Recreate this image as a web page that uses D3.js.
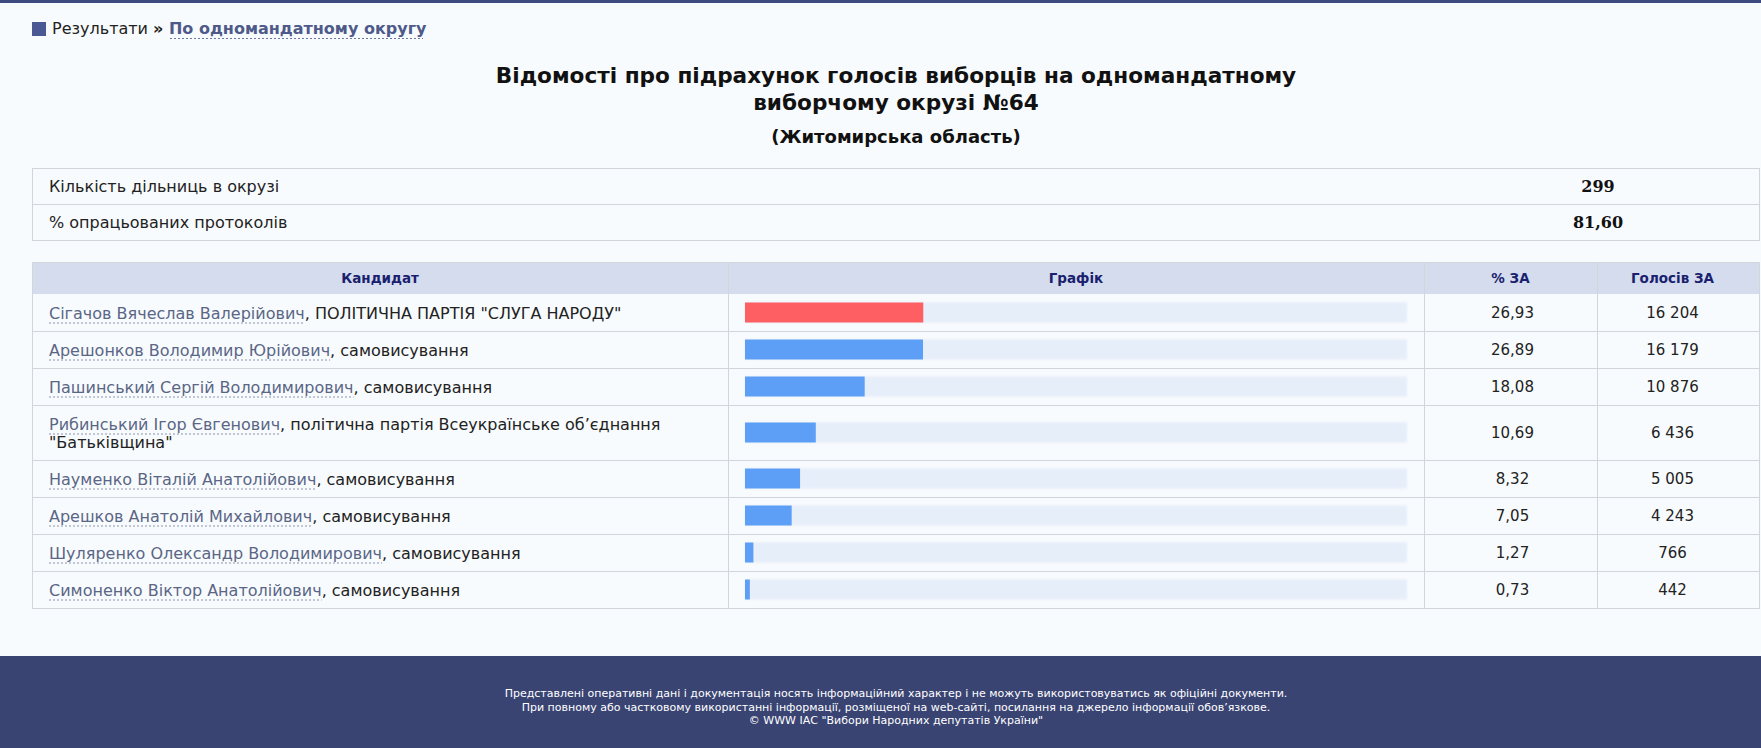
<!DOCTYPE html>
<html lang="uk">
<head>
<meta charset="utf-8">
<title>Відомості про підрахунок голосів виборців</title>
<script src="https://cdn.jsdelivr.net/npm/d3@7"></script>
<style>
  html, body { margin: 0; padding: 0; background: #f8fbfd; }
  svg { display: block; font-family: "DejaVu Sans", Verdana, sans-serif; }
</style>
</head>
<body>
<svg id="chart"></svg>
<script>
// candidates, as listed on the page
var candidates = [
    "Сігачов Вячеслав Валерійович",
    "Арешонков Володимир Юрійович",
    "Пашинський Сергій Володимирович",
    "Рибинський Ігор Євгенович",
    "Науменко Віталій Анатолійович",
    "Арешков Анатолій Михайлович",
    "Шуляренко Олександр Володимирович",
    "Симоненко Віктор Анатолійович"
];
var parties = [
    "ПОЛІТИЧНА ПАРТІЯ \"СЛУГА НАРОДУ\"",
    "самовисування",
    "самовисування",
    "політична партія Всеукраїнське об’єднання \"Батьківщина\"",
    "самовисування",
    "самовисування",
    "самовисування",
    "самовисування"
];
var pctValues = [26.93, 26.89, 18.08, 10.69, 8.32, 7.05, 1.27, 0.73];
var voteValues = [16204, 16179, 10876, 6436, 5005, 4243, 766, 442];

var infoLabels = ["Кількість дільниць в окрузі", "% опрацьованих протоколів"];
var infoValues = [299, 81.60];

var columnTitles = ["Кандидат", "Графік", "% ЗА", "Голосів ЗА"];
var titleLines = [
    "Відомості про підрахунок голосів виборців на одномандатному",
    "виборчому окрузі №64"
];
var subtitle = "(Житомирська область)";
var footerLines = [
    "Представлені оперативні дані і документація носять інформаційний характер і не можуть використовуватись як офіційні документи.",
    "При повному або частковому використанні інформації, розміщеної на web-сайті, посилання на джерело інформації обов’язкове.",
    "© WWW ІАС \"Вибори Народних депутатів України\""
];

var width = 1761, height = 748;
var tableLeft = 32, tableRight = 1760;
// column edges (last one is where the cell content is centred against)
var colEdges = [tableLeft, 728, 1424, 1597, 1748];
var lineColor = "#d2d5db";

var ua = d3.formatLocale({decimal: ",", thousands: " ", grouping: [3], currency: ["", ""]});
var fmtPct = ua.format(".2f");
var fmtVotes = ua.format(",d");

var svg = d3.select("#chart").attr("width", width).attr("height", height);

// top stripe
svg.append("rect").attr("x", 0).attr("y", 0).attr("width", width).attr("height", 3).attr("fill", "#3d4b7e");

// breadcrumb
svg.append("rect").attr("x", 32).attr("y", 22).attr("width", 14).attr("height", 14).attr("fill", "#4a5894");
var crumb = svg.append("text").attr("x", 52).attr("y", 34).attr("font-size", 16).attr("fill", "#222");
crumb.append("tspan").text("Результати ");
crumb.append("tspan").attr("font-weight", "bold").text("» ");
crumb.append("tspan").attr("font-weight", "bold").attr("fill", "#4d5a8a").text("По одномандатному округу");
svg.append("line")
    .attr("x1", 170).attr("x2", 423).attr("y1", 38.5).attr("y2", 38.5)
    .attr("stroke", "#6d78a0").attr("stroke-dasharray", "2,2");

// title
var cx = (tableLeft + tableRight) / 2;
svg.selectAll(".title").data(titleLines).enter()
    .append("text")
    .attr("class", "title")
    .attr("x", cx)
    .attr("y", function (d, i) { return 83 + i * 27; })
    .attr("text-anchor", "middle")
    .attr("font-size", 21.6)
    .attr("font-weight", "bold")
    .attr("fill", "#111")
    .text(function (d) { return d; });
svg.append("text")
    .attr("x", cx).attr("y", 143)
    .attr("text-anchor", "middle")
    .attr("font-size", 18).attr("font-weight", "bold").attr("fill", "#111")
    .text(subtitle);

// info table
var infoTop = 168, infoRowH = 36;
var info = svg.append("g");
info.append("rect")
    .attr("x", tableLeft + 0.5).attr("y", infoTop + 0.5)
    .attr("width", tableRight - tableLeft - 1).attr("height", infoRowH * infoLabels.length)
    .attr("fill", "none").attr("stroke", lineColor);
info.selectAll("line.sep").data(infoLabels.slice(1)).enter()
    .append("line")
    .attr("x1", tableLeft).attr("x2", tableRight)
    .attr("y1", function (d, i) { return infoTop + (i + 1) * infoRowH + 0.5; })
    .attr("y2", function (d, i) { return infoTop + (i + 1) * infoRowH + 0.5; })
    .attr("stroke", lineColor);
info.selectAll("text.lbl").data(infoLabels).enter()
    .append("text")
    .attr("x", 49)
    .attr("y", function (d, i) { return infoTop + i * infoRowH + 24; })
    .attr("font-size", 16).attr("fill", "#222")
    .text(function (d) { return d; });
info.selectAll("text.val").data(infoValues).enter()
    .append("text")
    .attr("x", 1598)
    .attr("y", function (d, i) { return infoTop + i * infoRowH + 24; })
    .attr("text-anchor", "middle")
    .attr("font-family", "'DejaVu Serif', serif")
    .attr("font-weight", "bold").attr("font-size", 16).attr("fill", "#111")
    .text(function (d, i) { return i === 0 ? d : fmtPct(d); });

// main table header
var headTop = 262, headH = 32;
svg.append("rect")
    .attr("x", tableLeft).attr("y", headTop)
    .attr("width", tableRight - tableLeft).attr("height", headH)
    .attr("fill", "#d4dcee");
svg.selectAll("text.head").data(columnTitles).enter()
    .append("text")
    .attr("x", function (d, i) { return (colEdges[i] + colEdges[i + 1]) / 2; })
    .attr("y", headTop + 21)
    .attr("text-anchor", "middle")
    .attr("font-size", 13.5).attr("font-weight", "bold").attr("fill", "#1a1f6e")
    .text(function (d) { return d; });

// split candidate text into lines to fit the first column
var textX = 49, maxTextW = 663, oneLineH = 37, extraLineH = 18;
var meter = svg.append("text").attr("font-size", 16).attr("visibility", "hidden");
function textWidth(s) {
    meter.text(s);
    return meter.node().getComputedTextLength();
}
var layout = candidates.map(function (name, i) {
    var words = parties[i].split(" ");
    var first = ",", second = [];
    words.forEach(function (w) {
        if (second.length === 0 && textWidth(name + first + " " + w) <= maxTextW) {
            first = first + " " + w;
        } else {
            second.push(w);
        }
    });
    var lines = second.length ? 2 : 1;
    return {rest: first, next: second.join(" "), lines: lines, nameW: textWidth(name)};
});
meter.remove();

var rowTops = [];
var yCursor = headTop + headH;
layout.forEach(function (l) {
    rowTops.push(yCursor);
    l.h = oneLineH + (l.lines - 1) * extraLineH;
    yCursor += l.h;
});
var tableBottom = yCursor;

// borders of main table
var grid = svg.append("g").attr("stroke", lineColor).attr("fill", "none");
grid.append("rect")
    .attr("x", tableLeft + 0.5).attr("y", headTop + 0.5)
    .attr("width", tableRight - tableLeft - 1).attr("height", tableBottom - headTop);
grid.selectAll("line.v").data(colEdges.slice(1, -1)).enter()
    .append("line")
    .attr("x1", function (d) { return d + 0.5; }).attr("x2", function (d) { return d + 0.5; })
    .attr("y1", headTop).attr("y2", tableBottom);
grid.selectAll("line.h").data(rowTops.slice(1)).enter()
    .append("line")
    .attr("x1", tableLeft).attr("x2", tableRight)
    .attr("y1", function (d) { return d + 0.5; }).attr("y2", function (d) { return d + 0.5; });

// bars
var barX0 = 745, barTrackW = 662, barH = 20;
var x = d3.scaleLinear().domain([0, 100]).range([0, barTrackW]);
var maxPct = d3.max(pctValues);

var defs = svg.append("defs");
defs.append("filter").attr("id", "soft").attr("x", "-5%").attr("y", "-30%").attr("width", "110%").attr("height", "160%")
    .append("feGaussianBlur").attr("stdDeviation", 1.2);
defs.append("filter").attr("id", "soft2").attr("x", "-5%").attr("y", "-30%").attr("width", "110%").attr("height", "160%")
    .append("feGaussianBlur").attr("stdDeviation", 0.5);

var rows = svg.selectAll("g.row").data(candidates).enter()
    .append("g").attr("class", "row")
    .attr("transform", function (d, i) { return "translate(0," + rowTops[i] + ")"; });

rows.append("rect")
    .attr("x", barX0)
    .attr("y", function (d, i) { return layout[i].h / 2 - barH / 2; })
    .attr("width", x(100)).attr("height", barH)
    .attr("fill", "#e6eefa").attr("filter", "url(#soft)");
rows.append("rect")
    .attr("x", barX0)
    .attr("y", function (d, i) { return layout[i].h / 2 - barH / 2; })
    .attr("width", function (d, i) { return x(pctValues[i]); })
    .attr("height", barH)
    .attr("fill", function (d, i) { return pctValues[i] === maxPct ? "#fd5f62" : "#5d9ff6"; })
    .attr("filter", "url(#soft2)");

// candidate text
var cand = rows.append("text")
    .attr("font-size", 16)
    .attr("y", function (d, i) { return layout[i].h / 2 - (layout[i].lines - 1) * 9 + 6; });
var firstLine = cand.append("tspan").attr("x", textX);
firstLine.append("tspan").attr("fill", "#5a6686").text(function (d) { return d; });
firstLine.append("tspan").attr("fill", "#222").text(function (d, i) { return layout[i].rest; });
cand.filter(function (d, i) { return layout[i].lines > 1; })
    .append("tspan").attr("x", textX).attr("dy", extraLineH).attr("fill", "#222")
    .text(function (d) { return layout[candidates.indexOf(d)].next; });

rows.append("line")
    .attr("x1", textX)
    .attr("x2", function (d, i) { return textX + layout[i].nameW; })
    .attr("y1", function (d, i) { return layout[i].h / 2 - (layout[i].lines - 1) * 9 + 10.5; })
    .attr("y2", function (d, i) { return layout[i].h / 2 - (layout[i].lines - 1) * 9 + 10.5; })
    .attr("stroke", "#8a93ad").attr("stroke-dasharray", "2,2");

// numbers
rows.append("text")
    .attr("x", (colEdges[2] + colEdges[3]) / 2 + 2)
    .attr("y", function (d, i) { return layout[i].h / 2 + 5.5; })
    .attr("text-anchor", "middle").attr("font-size", 15).attr("fill", "#222")
    .text(function (d, i) { return fmtPct(pctValues[i]); });
rows.append("text")
    .attr("x", (colEdges[3] + colEdges[4]) / 2)
    .attr("y", function (d, i) { return layout[i].h / 2 + 5.5; })
    .attr("text-anchor", "middle").attr("font-size", 15).attr("fill", "#222")
    .text(function (d, i) { return fmtVotes(voteValues[i]); });

// footer
svg.append("rect").attr("x", 0).attr("y", 656).attr("width", width).attr("height", height - 656).attr("fill", "#394473");
svg.selectAll("text.foot").data(footerLines).enter()
    .append("text")
    .attr("x", cx)
    .attr("y", function (d, i) { return 697 + i * 13.5; })
    .attr("text-anchor", "middle")
    .attr("font-size", 11).attr("fill", "#fff")
    .text(function (d) { return d; });
</script>
</body>
</html>
